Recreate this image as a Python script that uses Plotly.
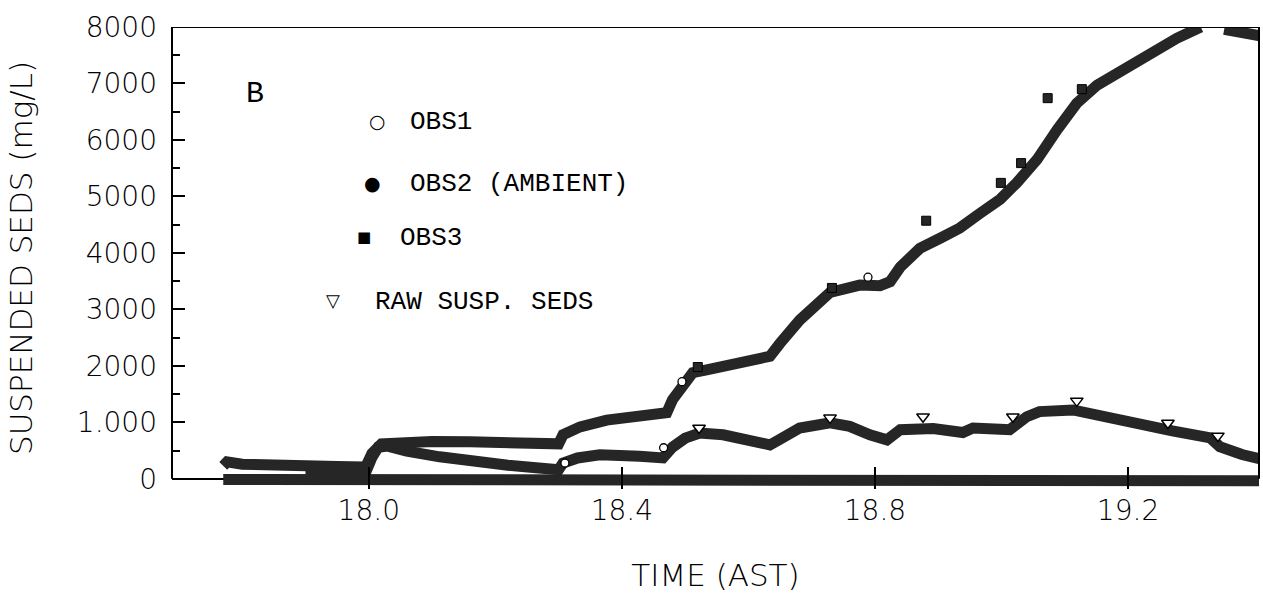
import plotly.graph_objects as go

# ---------------- data ----------------
time_upper = [17.770, 17.776, 17.80, 17.85, 17.90, 17.95, 17.995, 18.005, 18.02, 18.05,
              18.10, 18.16, 18.22, 18.29, 18.30, 18.307, 18.334, 18.376, 18.428, 18.471,
              18.48, 18.492, 18.512, 18.534, 18.587, 18.634, 18.65, 18.681, 18.729, 18.776,
              18.808, 18.824, 18.84, 18.871, 18.903, 18.934, 18.966, 18.998, 19.024, 19.056,
              19.088, 19.119, 19.151, 19.192, 19.235, 19.277, 19.315, 19.335, 19.352, 19.38,
              19.41]
ss_upper = [230, 300, 260, 260, 240, 220, 210, 450, 620, 650,
            660, 655, 630, 600, 620, 780, 920, 1040, 1130, 1170,
            1400, 1610, 1880, 1930, 2070, 2170, 2400, 2810, 3300, 3430,
            3420, 3490, 3750, 4080, 4260, 4440, 4700, 4950, 5240, 5650,
            6180, 6650, 6970, 7240, 7560, 7800, 8000, None, 7960, 7900,
            7840]

time_raw = [17.90, 17.95, 17.995, 18.005, 18.015, 18.03, 18.06, 18.112, 18.16, 18.22,
            18.26, 18.30, 18.307, 18.33, 18.365, 18.40, 18.428, 18.465, 18.48, 18.50,
            18.523, 18.56, 18.587, 18.634, 18.65, 18.681, 18.729, 18.76, 18.792, 18.819,
            18.84, 18.892, 18.939, 18.955, 18.998, 19.013, 19.04, 19.06, 19.113, 19.16,
            19.219, 19.27, 19.33, 19.345, 19.38, 19.41]
ss_raw = [90, 100, 110, 380, 560, 580, 490, 390, 310, 240,
          200, 160, 280, 370, 425, 430, 400, 370, 560, 720,
          810, 780, 725, 600, 700, 900, 990, 930, 780, 690,
          870, 890, 820, 900, 880, 870, 1100, 1190, 1220, 1100,
          990, 850, 725, 570, 430, 350]

time_ambient = [17.770, 18.0, 18.3, 18.6, 18.9, 19.2, 19.41]
ss_ambient = [-10, -20, -10, -20, -30, -30, -35]

obs1_t = [18.789, 18.495, 18.31, 18.466]
obs1_ss = [3570, 1720, 280, 550]

obs3_t = [18.881, 18.999, 19.031, 19.127, 19.073, 18.732, 18.52]
obs3_ss = [4570, 5240, 5590, 6900, 6740, 3380, 1980]

raw_t = [18.522, 18.729, 18.876, 19.018, 19.119, 19.263, 19.342]
raw_ss = [900, 1080, 1100, 1100, 1380, 990, 760]

x_ticks = [18.0, 18.4, 18.8, 19.2]
y_ticks = [0, 1000, 2000, 3000, 4000, 5000, 6000, 7000, 8000]
y_ticktext = ["0", "1.000", "2000", "3000", "4000", "5000", "6000", "7000", "8000"]
y_minor_ticks = [500, 1500, 2500, 3500, 4500, 5500, 6500, 7500]

legend_labels = ["OBS1", "OBS2 (AMBIENT)", "OBS3", "RAW SUSP. SEDS"]
legend_glyphs = ["○", "●", "■", "▽"]

# ---------------- styles ----------------
INK = "#262626"
BAND = 11
MONO = "Liberation Mono"
SANS = "DejaVu Sans"
X_RANGE = [17.689, 19.407]
Y_RANGE = [-180, 8000]   # a little room below zero so the zero band is not cut
Y_TOP = 8000

fig = go.Figure()

fig.add_trace(go.Scatter(x=time_ambient, y=ss_ambient, mode="lines",
                         line=dict(color=INK, width=BAND),
                         name="OBS2 (AMBIENT)", showlegend=False))
fig.add_trace(go.Scatter(x=time_raw, y=ss_raw, mode="lines",
                         line=dict(color=INK, width=BAND),
                         name="RAW SUSP. SEDS", showlegend=False))
fig.add_trace(go.Scatter(x=time_upper, y=ss_upper, mode="lines",
                         line=dict(color=INK, width=BAND), connectgaps=False,
                         name="OBS3", showlegend=False))

fig.add_trace(go.Scatter(x=obs3_t, y=obs3_ss, mode="markers", name="OBS3 points",
                         marker=dict(symbol="square", size=9, color=INK,
                                     line=dict(color="black", width=1)),
                         showlegend=False))
fig.add_trace(go.Scatter(x=obs1_t, y=obs1_ss, mode="markers", name="OBS1 points",
                         marker=dict(symbol="circle", size=8, color="white",
                                     line=dict(color="black", width=1.3)),
                         showlegend=False))
fig.add_trace(go.Scatter(x=raw_t, y=raw_ss, mode="markers", name="RAW points",
                         marker=dict(symbol="triangle-down", size=11, color="white",
                                     line=dict(color="black", width=1.5)),
                         showlegend=False))

# legend drawn as text (positions in plot-area fractions)
glyph_pos = [(0.1886, 0.796, 19), (0.184, 0.662, 19), (0.1766, 0.545, 15), (0.148, 0.407, 18)]
label_pos = [(0.217, 0.794), (0.217, 0.660), (0.208, 0.543), (0.185, 0.405)]
annotations = []
for g, (gx, gy, gs) in zip(legend_glyphs, glyph_pos):
    annotations.append(dict(x=gx, y=gy, xref="paper", yref="paper", text=g, showarrow=False,
                            xanchor="center", yanchor="middle",
                            font=dict(family=SANS, size=gs, color="black")))
for t, (lx, ly) in zip(legend_labels, label_pos):
    annotations.append(dict(x=lx, y=ly, xref="paper", yref="paper", text=t, showarrow=False,
                            xanchor="left", yanchor="middle",
                            font=dict(family=MONO, size=26, color="black")))
annotations.append(dict(x=0.0764, y=0.855, xref="paper", yref="paper", text="B", showarrow=False,
                        xanchor="center", yanchor="middle",
                        font=dict(family=MONO, size=30, color="black")))

frame = dict(color="black", width=2)
shapes = [
    dict(type="line", xref="paper", yref="y", x0=0, x1=0, y0=0, y1=Y_TOP, line=frame, layer="above"),
    dict(type="line", xref="paper", yref="y", x0=1, x1=1, y0=0, y1=Y_TOP, line=frame, layer="above"),
    dict(type="line", xref="paper", yref="y", x0=0, x1=1, y0=Y_TOP, y1=Y_TOP, line=frame, layer="above"),
]

tickfont = dict(family=SANS, size=28, color="black", weight=300)

fig.update_layout(
    width=1263, height=597,
    margin=dict(l=172, r=4, t=27, b=108),
    paper_bgcolor="white", plot_bgcolor="white",
    showlegend=False,
    annotations=annotations,
    shapes=shapes,
    xaxis=dict(range=X_RANGE, tickvals=x_ticks, tickformat=".1f",
               ticks="inside", ticklen=22, tickwidth=1.5, tickcolor="black",
               showline=False, showgrid=False, zeroline=False,
               tickfont=tickfont, ticklabelstandoff=2,
               title=dict(text="TIME (AST)", font=dict(family=SANS, size=31, color="black", weight=300),
                          standoff=38)),
    xaxis2=dict(range=X_RANGE, overlaying="x", side="top", anchor="y",
                tickvals=x_ticks, ticks="inside", ticklen=13, tickwidth=1.5, tickcolor="black",
                showticklabels=False, showline=False, showgrid=False, zeroline=False),
    yaxis=dict(range=Y_RANGE, tickvals=y_ticks, ticktext=y_ticktext,
               ticks="inside", ticklen=13, tickwidth=2, tickcolor="black",
               minor=dict(tickvals=y_minor_ticks,
                          ticks="inside", ticklen=8, tickwidth=1.5, tickcolor="black"),
               showline=False, showgrid=False,
               zeroline=True, zerolinecolor="black", zerolinewidth=2,
               tickfont=tickfont, ticklabelstandoff=14,
               title=dict(text="SUSPENDED SEDS (mg/L)", font=dict(family=SANS, size=31, color="black", weight=300),
                          standoff=34)),
    yaxis2=dict(range=Y_RANGE, overlaying="y", side="right", anchor="x",
                tickvals=y_ticks, ticks="inside", ticklen=13, tickwidth=2, tickcolor="black",
                minor=dict(tickvals=y_minor_ticks,
                           ticks="inside", ticklen=8, tickwidth=1.5, tickcolor="black"),
                showticklabels=False, showline=False, showgrid=False, zeroline=False),
)

fig.write_html("out.html")
